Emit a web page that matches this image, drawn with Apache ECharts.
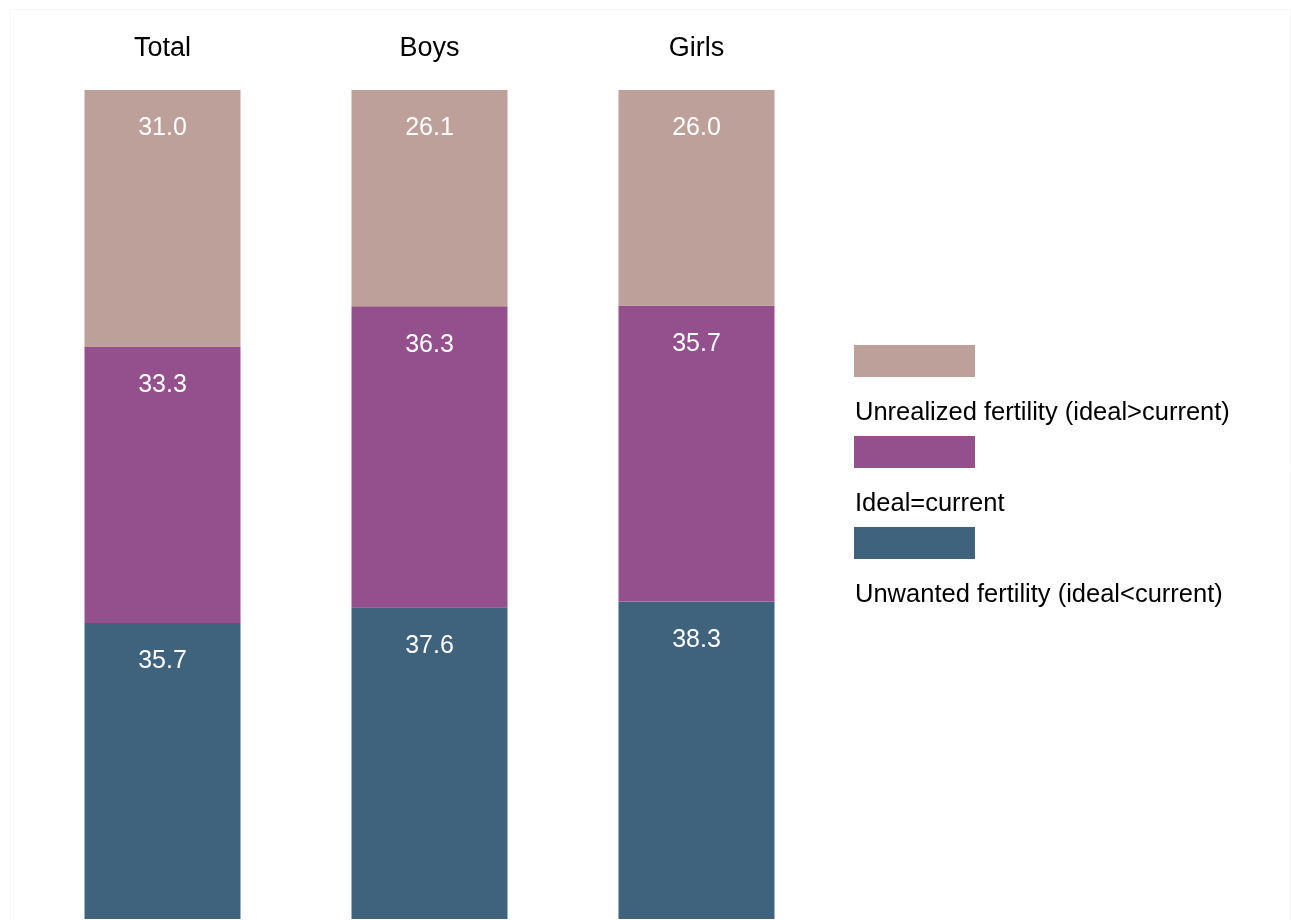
<!DOCTYPE html>
<html>
<head>
<meta charset="utf-8">
<script src="https://cdn.jsdelivr.net/npm/echarts@6/dist/echarts.min.js"></script>
<style>
html,body{margin:0;padding:0;background:#fff;}
#chart{width:1291px;height:920px;}
</style>
</head>
<body>
<div id="chart"></div>
<script>
const categories = ['Total', 'Boys', 'Girls'];
const unwanted = [35.7, 37.6, 38.3];
const idealEqual = [33.3, 36.3, 35.7];
const unrealized = [31.0, 26.1, 26.0];
const seriesNames = ['Unrealized fertility (ideal>current)', 'Ideal=current', 'Unwanted fertility (ideal<current)'];
const colors = { unrealized: '#BDA09A', ideal: '#94508C', unwanted: '#3F637D' };

const chart = echarts.init(document.getElementById('chart'));
const FONT = 'Liberation Sans, Arial, sans-serif';
const labelCfg = {
  show: true,
  position: 'insideTop',
  distance: 26,
  color: '#fff',
  fontSize: 25,
  fontFamily: FONT,
  formatter: p => p.value.toFixed(1)
};
chart.setOption({
  backgroundColor: '#fff',
  animation: false,
  graphic: [{
    type: 'rect', left: 8, top: 7, silent: true, z: -10,
    shape: { width: 1280, height: 930 },
    style: { fill: 'none', stroke: '#f6f6f6', lineWidth: 1 }
  }],
  grid: { left: 29, width: 801, top: 90, bottom: 1 },
  xAxis: {
    type: 'category',
    position: 'top',
    data: categories,
    axisLine: { show: false },
    axisTick: { show: false },
    axisLabel: { color: '#000', fontSize: 27, fontFamily: FONT, margin: 28 }
  },
  yAxis: { type: 'value', min: 0, max: 100, show: false, splitLine: { show: false } },
  legend: [
    {
      orient: 'vertical', left: 854, top: 345, padding: 0,
      itemWidth: 121, itemHeight: 32, itemGap: 59,
      icon: 'rect',
      data: seriesNames,
      formatter: () => '',
      selectedMode: false
    },
    {
      orient: 'vertical', left: 850, top: 400, padding: 0,
      itemWidth: 0, itemHeight: 0, itemGap: 65,
      icon: 'rect',
      data: seriesNames,
      textStyle: { color: '#000', fontSize: 25.5, fontFamily: FONT, lineHeight: 26 },
      selectedMode: false
    }
  ],
  series: [
    { name: seriesNames[2], type: 'bar', stack: 's', barWidth: 156, data: unwanted,
      itemStyle: { color: colors.unwanted }, label: labelCfg },
    { name: seriesNames[1], type: 'bar', stack: 's', barWidth: 156, data: idealEqual,
      itemStyle: { color: colors.ideal }, label: labelCfg },
    { name: seriesNames[0], type: 'bar', stack: 's', barWidth: 156, data: unrealized,
      itemStyle: { color: colors.unrealized }, label: labelCfg }
  ]
});
</script>
</body>
</html>
